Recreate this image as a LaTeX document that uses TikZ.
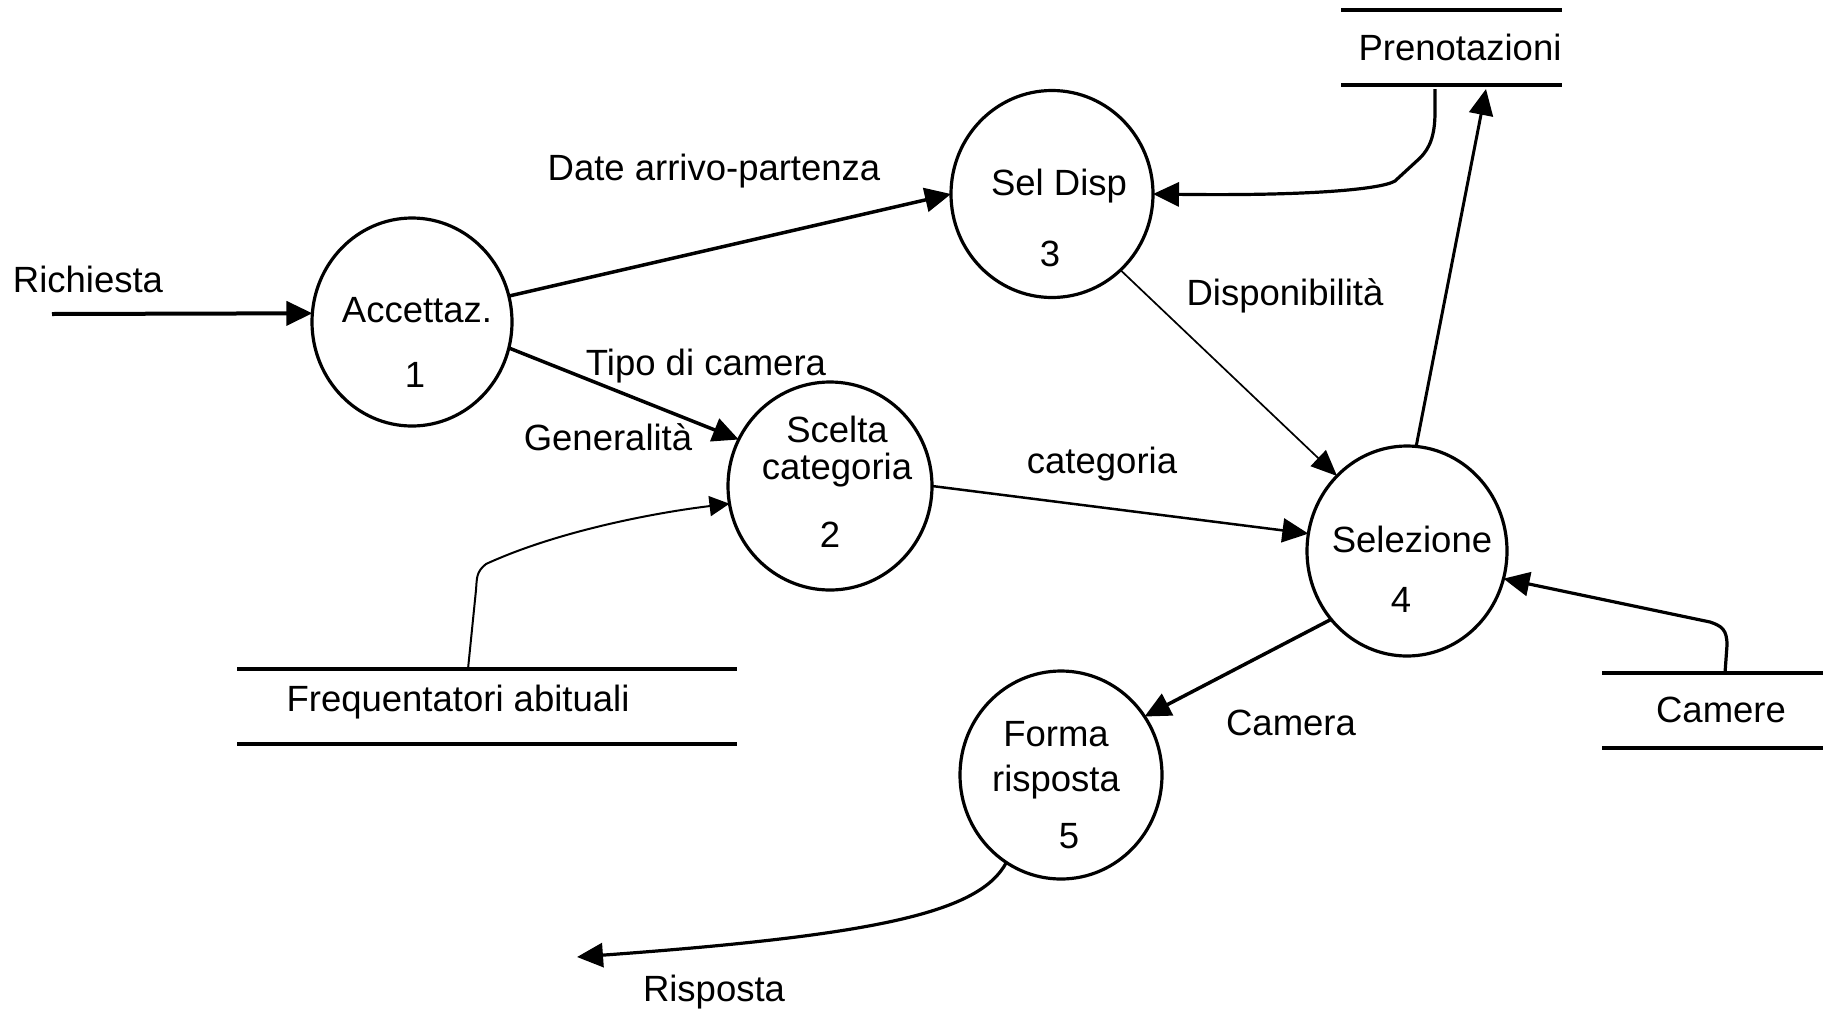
\documentclass[tikz,border=0pt]{standalone}
\usepackage{fontspec}
\setmainfont{Liberation Sans}
\usetikzlibrary{arrows.meta,shapes.geometric}
\begin{document}
\begin{tikzpicture}[x=1pt,y=-1pt,
  proc/.style={ellipse,draw,line width=3.2pt,inner sep=0pt,outer sep=0pt},
  lbl/.style={anchor=base,inner sep=0pt,outer sep=0pt,font=\fontsize{36.5}{44}\selectfont},
  store/.style={minimum height=75pt,inner sep=0pt,outer sep=0pt},
  storeline/.style={line width=4pt},
  flow/.style={line width=3.5pt,-{Triangle[length=26pt,width=24pt]}},
  thinflow/.style={line width=1.7pt,-{Triangle[length=26pt,width=22pt]}},
  smallflow/.style={line width=2pt,-{Triangle[length=20pt,width=20pt]}}]
\useasboundingbox[fill=white] (0,0) rectangle (1826,1018);

% processes
\node[proc,minimum width=200pt,minimum height=208pt] (a1) at (412,322) {};
\node[proc,minimum width=204pt,minimum height=208pt] (a2) at (830,486) {};
\node[proc,minimum width=202pt,minimum height=207pt] (a3) at (1052,194) {};
\node[proc,minimum width=200pt,minimum height=210pt] (a4) at (1407,551) {};
\node[proc,minimum width=202pt,minimum height=208pt] (a5) at (1061,775) {};

\node[lbl] (t1a) at (417,322) {Accettaz.};
\node[lbl] (t1b) at (415,387) {1};
\node[lbl] (t2a) at (837,442) {Scelta};
\node[lbl] (t2b) at (837,479) {categoria};
\node[lbl] (t2c) at (830,547) {2};
\node[lbl] (t3a) at (1059,195) {Sel Disp};
\node[lbl] (t3b) at (1050,266) {3};
\node[lbl] (t4a) at (1412,552) {Selezione};
\node[lbl] (t4b) at (1401,612) {4};
\node[lbl] (t5a) at (1056,746) {Forma};
\node[lbl] (t5b) at (1056,791) {risposta};
\node[lbl] (t5c) at (1069,848) {5};

% data stores
\node[store,minimum width=221pt] (pr) at (1451.5,47.5) {};
\node[store,minimum width=500pt] (fs) at (487,706.5) {};
\node[store,minimum width=221pt] (cm) at (1712.5,710.5) {};
\foreach \s in {pr,fs,cm}
  \draw[storeline] (\s.north west) -- (\s.north east) (\s.south west) -- (\s.south east);
\node[lbl] (prt) at (1460,60) {Prenotazioni};
\node[lbl] (fst) at (458,711) {Frequentatori abituali};
\node[lbl] (cmt) at (1721,722) {Camere};

% flows
\coordinate (rin) at (52,314);
\coordinate (rout) at (577,957);
\draw[flow,line width=4pt] (rin) -- (a1.175);
\draw[flow] (a1.15) -- (a3.180);
\draw[flow] (a1.-15) -- (a2.153);
\draw[smallflow] ([xshift=-19pt]fs.north) -- (476,590)
  .. controls (477,578) and (476,572) .. (486,564)
  .. controls (560,530) and (660,512) .. (a2.190);
\draw[flow,line width=2.5pt] (a2.0) -- (a4.170);
\draw[thinflow] (a3.-48) -- (a4.133);
\draw[flow,line width=3pt] (a4.85) -- ([xshift=34.5pt,yshift=-4pt]pr.south);
\draw[flow,line width=3.2pt] ([xshift=-16.5pt,yshift=-4pt]pr.south) -- (1435,112)
  .. controls (1435,135) and (1430,148) .. (1420,158) -- (1395,181)
  .. controls (1380,190) and (1300,196) .. (a3.0);
\draw[flow,line width=3.2pt] ([xshift=12.5pt]cm.north) -- (1727,645)
  .. controls (1727,630) and (1722,626) .. (1710,622) -- (a4.-16.5);
\draw[flow] (a4.222) -- (a5.35.5);
\draw[flow,line width=3.2pt] (a5.238) .. controls (980,912) and (880,935) .. (rout);

% flow labels
\node[lbl] (lr) at (88,292) {Richiesta};
\node[lbl] (ld) at (714,180) {Date arrivo-partenza};
\node[lbl] (lt) at (706,375) {Tipo di camera};
\node[lbl] (lg) at (608,450) {Generalità};
\node[lbl] (lc) at (1102,473) {categoria};
\node[lbl] (lp) at (1285,305) {Disponibilità};
\node[lbl] (lca) at (1291,735) {Camera};
\node[lbl] (lrs) at (714,1001) {Risposta};
\end{tikzpicture}
\end{document}
